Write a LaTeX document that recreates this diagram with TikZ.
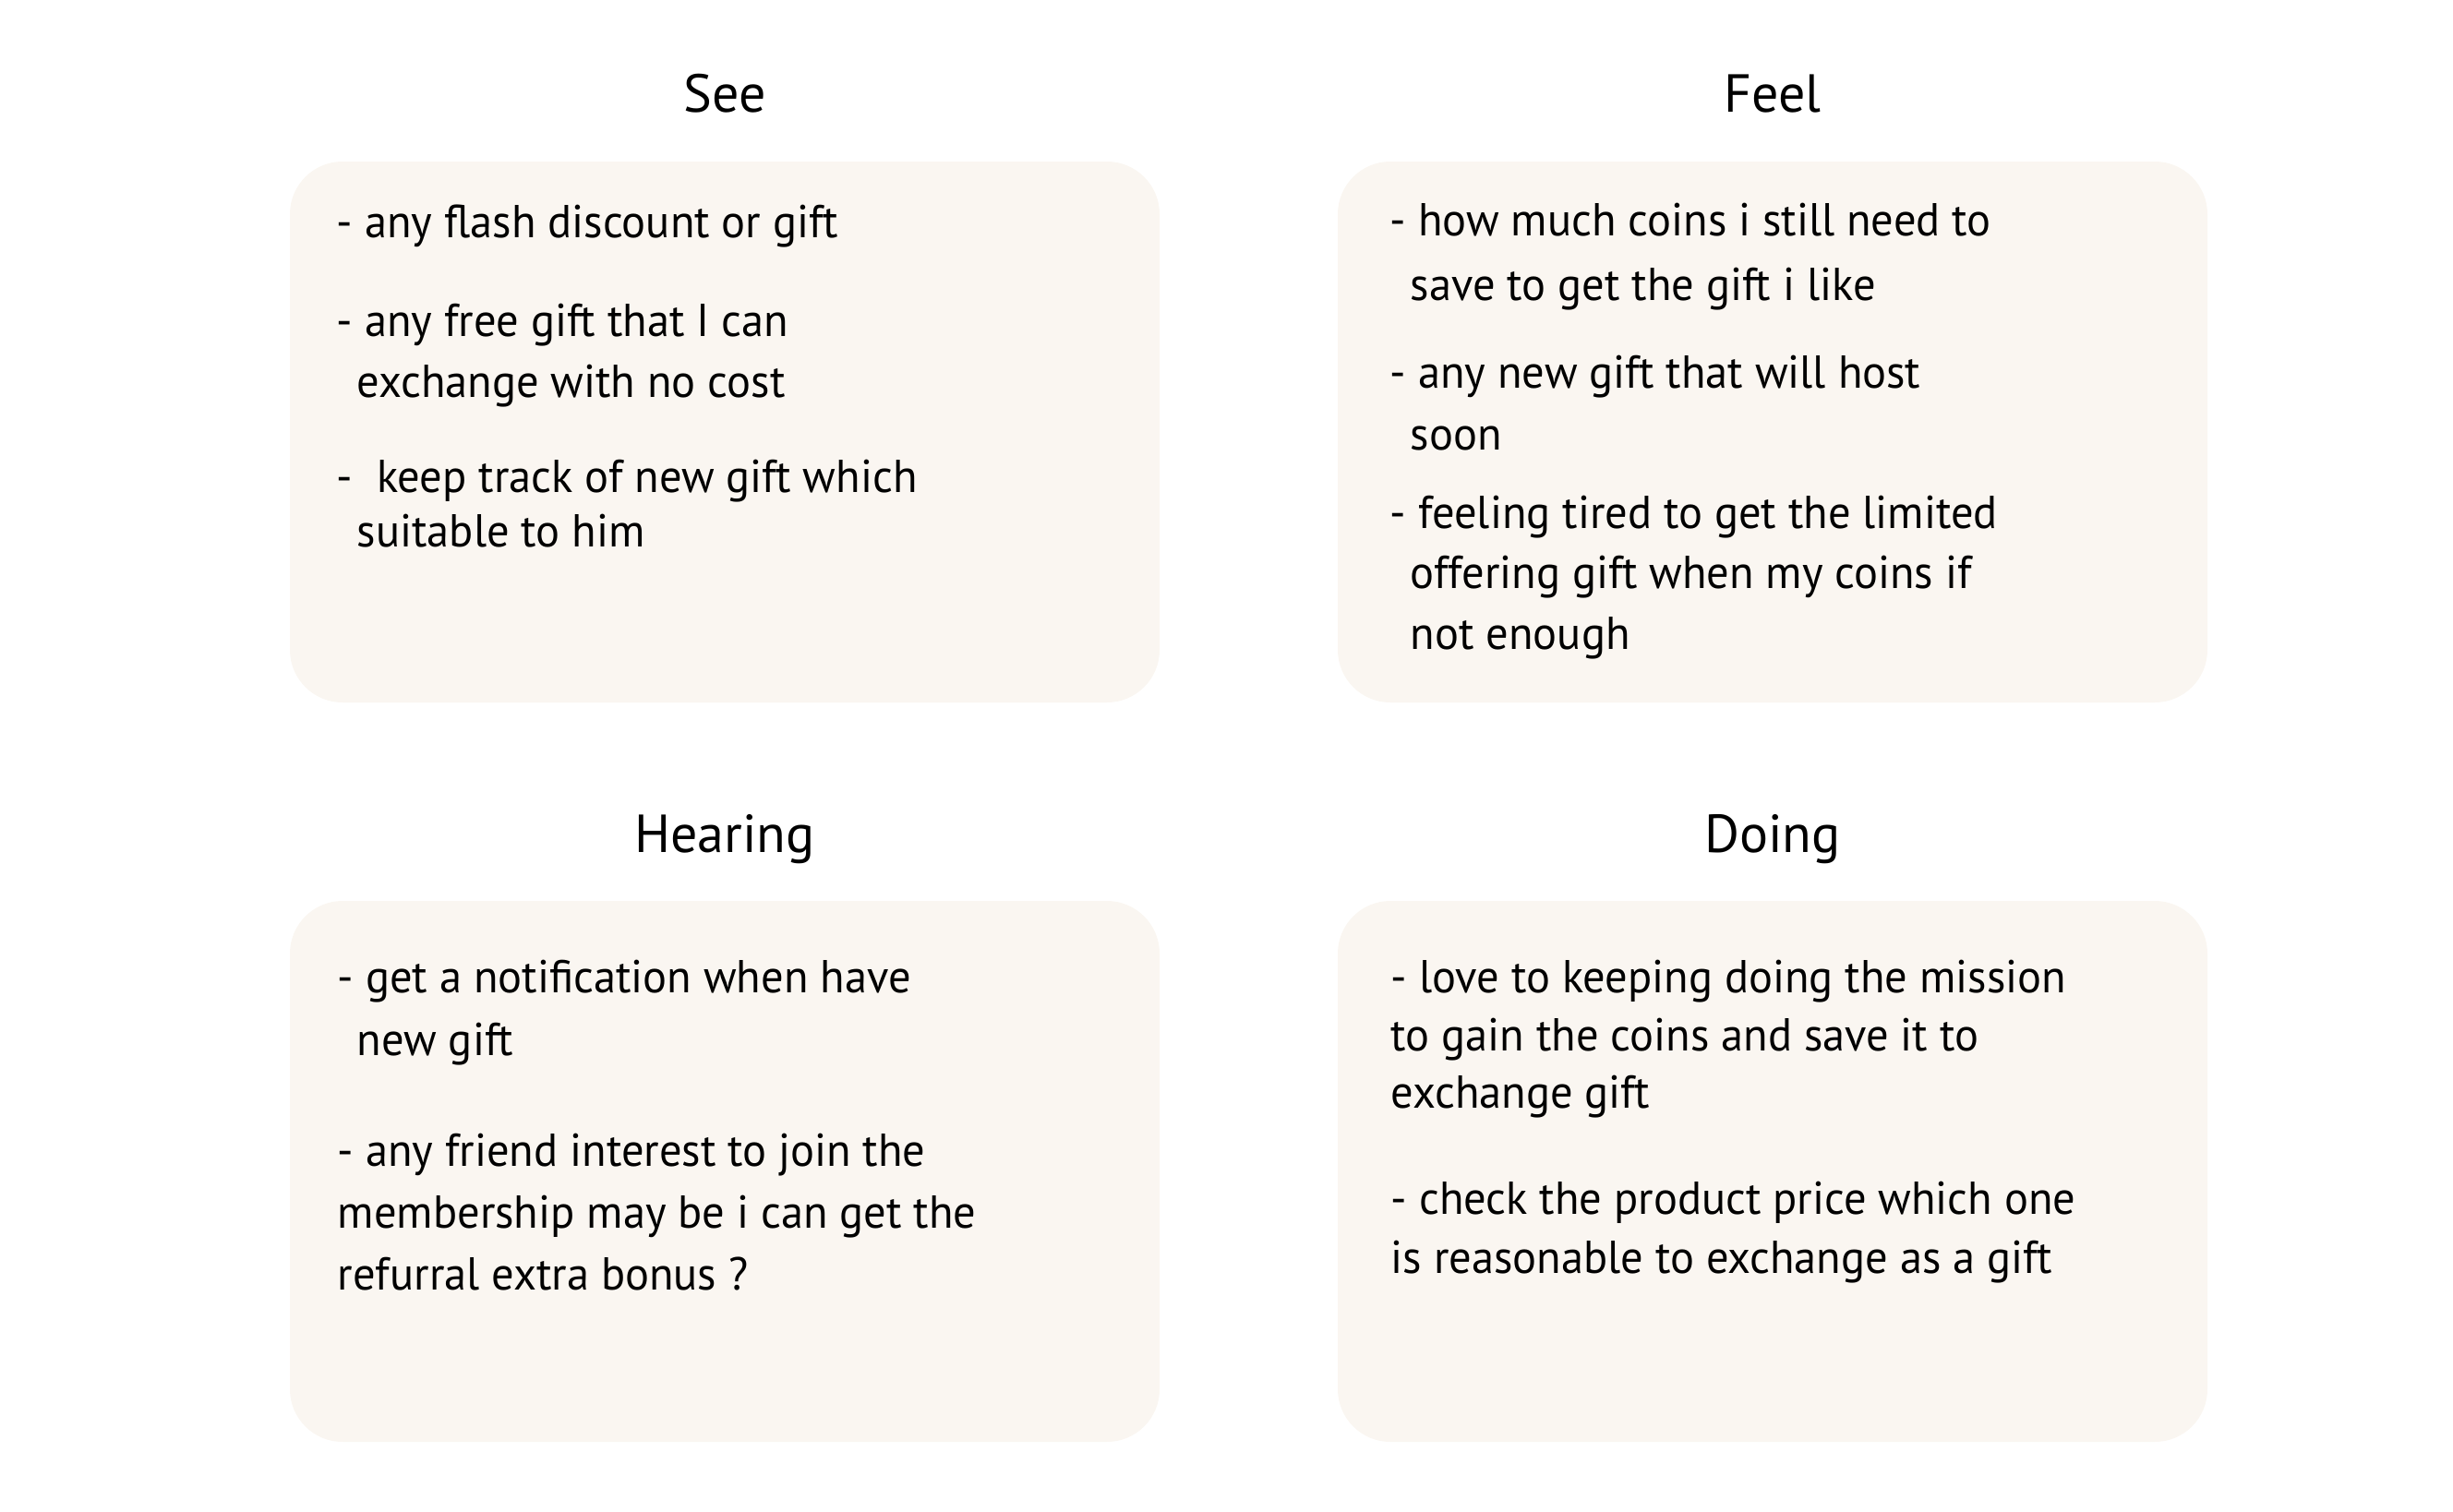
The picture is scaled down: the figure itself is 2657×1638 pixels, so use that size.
\documentclass[tikz,border=0pt]{standalone}
\usepackage{fontspec}
\setmainfont{PT Sans}
\newfontfamily\bodyfont[FakeStretch=0.97]{PT Sans}
\definecolor{cardfill}{HTML}{FAF6F1}
\begin{document}
\begin{tikzpicture}[x=0.25pt,y=-0.25pt,
  card/.style={fill=cardfill,draw=none,rounded corners=14.25pt,minimum width=235.5pt,minimum height=146.5pt,inner sep=0pt},
  title/.style={anchor=base,inner sep=0pt,font=\fontsize{14.5pt}{17pt}\selectfont,text=black},
  line/.style={anchor=base west,inner sep=0pt,font=\bodyfont\fontsize{12.5pt}{15pt}\selectfont,text=black}]
\useasboundingbox (0,0) rectangle (2657,1638);
% cards
\node[card] (seebox) at (785,468) {};
\node[card] (feelbox) at (1920,468) {};
\node[card] (hearbox) at (785,1269) {};
\node[card] (doingbox) at (1920,1269) {};
% titles
\node[title] (seet) at (785,122) {See};
\node[title] (feelt) at (1920,122) {Feel};
\node[title] (heart) at (785,923) {Hearing};
\node[title] (doingt) at (1920,923) {Doing};
% See
\node[line] (s1) at (364,257) {- any flash discount or gift};
\node[line] (s2) at (364,364) {- any free gift that I can};
\node[line] (s3) at (386,430) {exchange with no cost};
\node[line] (s4) at (364,533) {-\ \ keep track of new gift which};
\node[line] (s5) at (386,592) {suitable to him};
% Feel
\node[line] (f1) at (1505,255) {- how much coins i still need to};
\node[line] (f2) at (1527,325) {save to get the gift i like};
\node[line] (f3) at (1505,420) {- any new gift that will host};
\node[line] (f4) at (1527,487) {soon};
\node[line] (f5) at (1505,572) {- feeling tired to get the limited};
\node[line] (f6) at (1527,637) {offering gift when my coins if};
\node[line] (f7) at (1527,703) {not enough};
% Hearing
\node[line] (h1) at (365,1075) {- get a notification when have};
\node[line] (h2) at (386,1143) {new gift};
\node[line] (h3) at (365,1263) {- any friend interest to join the};
\node[line] (h4) at (365,1330) {membership may be i can get the};
\node[line] (h5) at (365,1397) {refurral extra bonus ?};
% Doing
\node[line] (d1) at (1506,1075) {- love to keeping doing the mission};
\node[line] (d2) at (1506,1138) {to gain the coins and save it to};
\node[line] (d3) at (1506,1200) {exchange gift};
\node[line] (d4) at (1506,1315) {- check the product price which one};
\node[line] (d5) at (1506,1379) {is reasonable to exchange as a gift};
\end{tikzpicture}
\end{document}
